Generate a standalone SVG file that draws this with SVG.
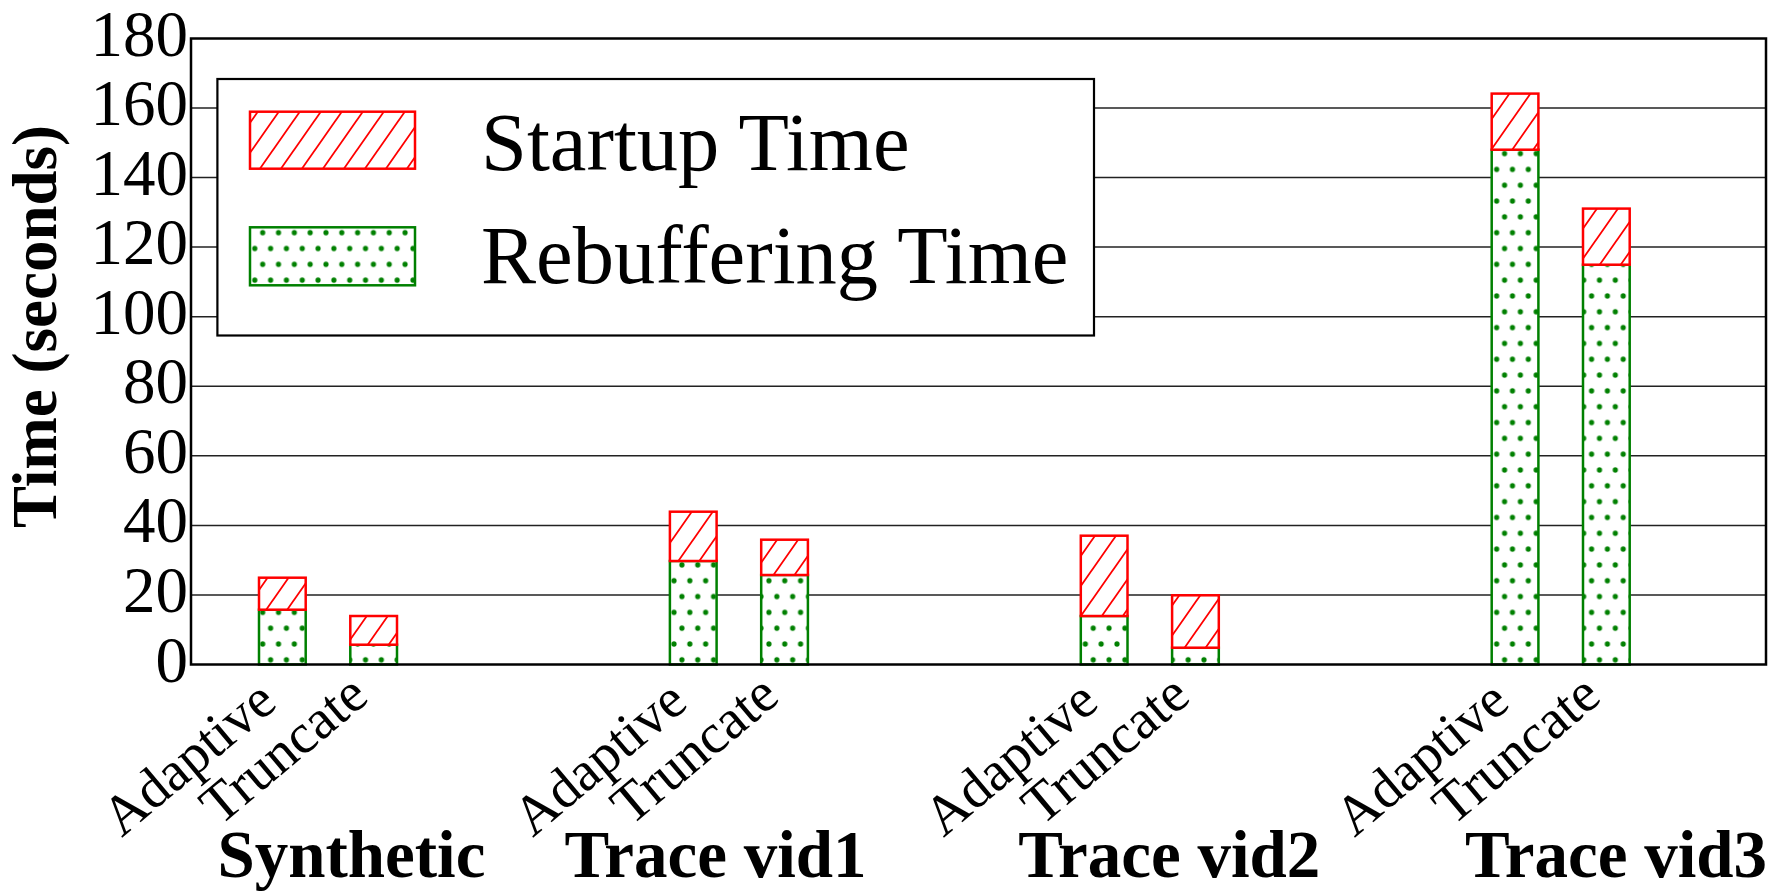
<svg xmlns="http://www.w3.org/2000/svg" width="1781" height="896" viewBox="0 0 1781 896">
<style>
text{font-family:"Liberation Serif","Times New Roman",serif;fill:#000}
.tick{font-size:65px;text-anchor:end}
.cat{font-size:67px;font-weight:bold;text-anchor:middle}
.xl{font-size:56px;text-anchor:end}
.leg{font-size:82.5px}
.grid{stroke:#222;stroke-width:1.5}
.frame{fill:none;stroke:#000;stroke-width:2.5}
.reb{fill:url(#dots);stroke:#008000;stroke-width:2.5}
.st{fill:url(#hatch);stroke:#ff0000;stroke-width:2.5}
</style>
<defs>
<pattern id="dots" patternUnits="userSpaceOnUse" x="9.58" y="11.22" width="15.82" height="31.64">
<rect width="15.82" height="31.64" fill="#fff"/>
<g fill="#008000">
<circle cx="0" cy="0" r="2.6"/><circle cx="15.82" cy="0" r="2.6"/>
<circle cx="7.91" cy="15.82" r="2.6"/>
<circle cx="0" cy="31.64" r="2.6"/><circle cx="15.82" cy="31.64" r="2.6"/>
</g>
</pattern>
<pattern id="hatch" patternUnits="userSpaceOnUse" x="0" y="0" width="21" height="30">
<rect width="21" height="30" fill="#fff"/>
<path d="M-3,34.29L24,-4.29M-3,4.29L24,-34.29M-3,64.29L24,25.71" stroke="#ff0000" stroke-width="1.8" fill="none"/>
</pattern>
</defs>
<rect width="1781" height="896" fill="#fff"/>
<g id="grid">
<line class="grid" x1="191" y1="595" x2="1766" y2="595"/>
<line class="grid" x1="191" y1="525.4" x2="1766" y2="525.4"/>
<line class="grid" x1="191" y1="455.8" x2="1766" y2="455.8"/>
<line class="grid" x1="191" y1="386.3" x2="1766" y2="386.3"/>
<line class="grid" x1="191" y1="316.7" x2="1766" y2="316.7"/>
<line class="grid" x1="191" y1="247.1" x2="1766" y2="247.1"/>
<line class="grid" x1="191" y1="177.5" x2="1766" y2="177.5"/>
<line class="grid" x1="191" y1="108" x2="1766" y2="108"/>
</g>
<g id="yticks">
<text class="tick" x="188" y="681.5">0</text>
<text class="tick" x="188" y="612">20</text>
<text class="tick" x="188" y="542.4">40</text>
<text class="tick" x="188" y="472.8">60</text>
<text class="tick" x="188" y="403.3">80</text>
<text class="tick" x="188" y="333.7">100</text>
<text class="tick" x="188" y="264.1">120</text>
<text class="tick" x="188" y="194.5">140</text>
<text class="tick" x="188" y="125">160</text>
<text class="tick" x="188" y="55.5">180</text>
</g>
<text id="ytitle" transform="translate(56,326.5) rotate(-90)" font-size="63" font-weight="bold" text-anchor="middle">Time (seconds)</text>
<g id="legend">
<rect x="217.4" y="79" width="876.6" height="256.5" fill="#fff" stroke="#000" stroke-width="2.2"/>
<rect class="st" x="250" y="111.7" width="165" height="57"/>
<text class="leg" x="481" y="170">Startup Time</text>
<rect class="reb" x="250" y="227.3" width="165" height="58"/>
<text class="leg" x="481" y="282.5">Rebuffering Time</text>
</g>
<g id="bar-synthetic-adaptive">
<rect class="reb" x="259" y="609.7" width="46.7" height="54.8"/>
<rect class="st" x="259" y="577.7" width="46.7" height="32"/>
</g>
<g id="bar-synthetic-truncate">
<rect class="reb" x="350.3" y="644.7" width="46.7" height="19.8"/>
<rect class="st" x="350.3" y="616" width="46.7" height="28.7"/>
</g>
<g id="bar-vid1-adaptive">
<rect class="reb" x="669.9" y="561" width="46.7" height="103.5"/>
<rect class="st" x="669.9" y="511.7" width="46.7" height="49.3"/>
</g>
<g id="bar-vid1-truncate">
<rect class="reb" x="761.2" y="575" width="46.7" height="89.5"/>
<rect class="st" x="761.2" y="539.7" width="46.7" height="35.3"/>
</g>
<g id="bar-vid2-adaptive">
<rect class="reb" x="1080.8" y="616" width="46.7" height="48.5"/>
<rect class="st" x="1080.8" y="535.7" width="46.7" height="80.3"/>
</g>
<g id="bar-vid2-truncate">
<rect class="reb" x="1172.1" y="647.7" width="46.7" height="16.8"/>
<rect class="st" x="1172.1" y="595.3" width="46.7" height="52.4"/>
</g>
<g id="bar-vid3-adaptive">
<rect class="reb" x="1491.7" y="149.7" width="46.7" height="514.8"/>
<rect class="st" x="1491.7" y="93.6" width="46.7" height="56.1"/>
</g>
<g id="bar-vid3-truncate">
<rect class="reb" x="1583" y="264.7" width="46.7" height="399.8"/>
<rect class="st" x="1583" y="208.6" width="46.7" height="56.1"/>
</g>
<rect id="frame" class="frame" x="191" y="38.5" width="1575" height="626"/>
<g id="xlabels">
<text class="xl" transform="translate(279,706) rotate(-40)">Adaptive</text>
<text class="xl" transform="translate(370.7,700) rotate(-40)">Truncate</text>
<text class="xl" transform="translate(689.9,706) rotate(-40)">Adaptive</text>
<text class="xl" transform="translate(781.6,700) rotate(-40)">Truncate</text>
<text class="xl" transform="translate(1100.8,706) rotate(-40)">Adaptive</text>
<text class="xl" transform="translate(1192.5,700) rotate(-40)">Truncate</text>
<text class="xl" transform="translate(1511.7,706) rotate(-40)">Adaptive</text>
<text class="xl" transform="translate(1603.4,700) rotate(-40)">Truncate</text>
</g>
<g id="categories">
<text class="cat" x="351.4" y="877">Synthetic</text>
<text class="cat" x="715.5" y="877">Trace vid1</text>
<text class="cat" x="1169.3" y="877">Trace vid2</text>
<text class="cat" x="1616" y="877">Trace vid3</text>
</g>
</svg>
